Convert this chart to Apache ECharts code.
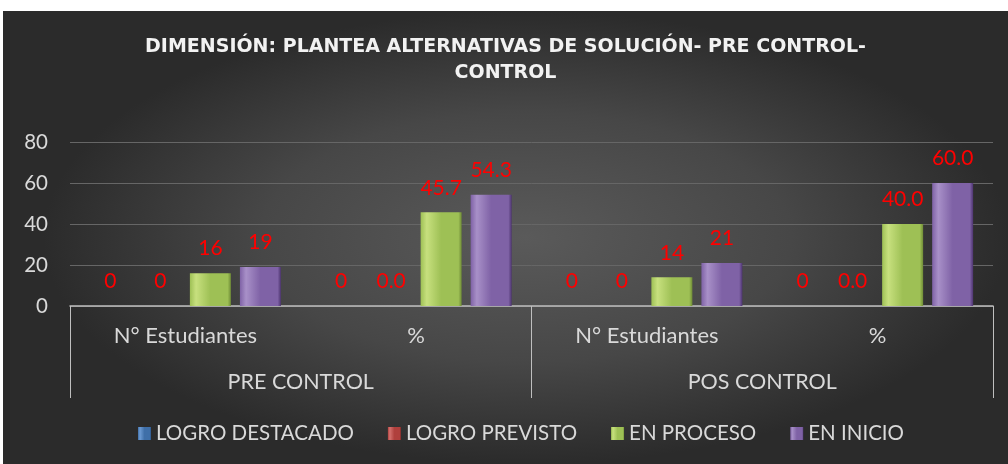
<!DOCTYPE html>
<html>
<head>
<meta charset="utf-8">
<script src="https://cdn.jsdelivr.net/npm/echarts@6/dist/echarts.min.js"></script>
<style>
  html, body { margin: 0; padding: 0; background: #ffffff; }
  #wrap { position: relative; width: 1008px; height: 464px; background: #ffffff; overflow: hidden; }
  #chart { position: absolute; left: 3px; top: 11px; width: 1005px; height: 453px;
    background: radial-gradient(ellipse closest-side at 52% 50%, #5a5a5a 0%, #474747 55%, #2b2b2b 100%); }
</style>
</head>
<body>
<div id="wrap"><div id="chart"></div></div>
<script>
// ---- data ----
const titleText = 'DIMENSIÓN: PLANTEA ALTERNATIVAS DE SOLUCIÓN- PRE CONTROL-\nCONTROL';
const innerCategories = ['N° Estudiantes', '%', 'N° Estudiantes', '%'];
const outerCategories = ['PRE CONTROL', 'POS CONTROL'];
const seriesNames = ['LOGRO DESTACADO', 'LOGRO PREVISTO', 'EN PROCESO', 'EN INICIO'];
const logroDestacado = [0, 0, 0, 0];
const logroPrevisto = [0, 0.0, 0, 0.0];
const enProceso = [16, 45.7, 14, 40.0];
const enInicio = [19, 54.3, 21, 60.0];
// decimals shown in data labels, per series per category
const labelDecimals = [
  [0, 0, 0, 0],
  [0, 1, 0, 1],
  [0, 1, 0, 1],
  [0, 1, 0, 1]
];
const yTicks = { min: 0, max: 80, interval: 20 };

const seriesValues = [logroDestacado, logroPrevisto, enProceso, enInicio];
const baseColors = [
  ['#6d9bd3', '#3f6fa8', '#2c5282'],
  ['#d4716e', '#b0403d', '#8a2c2a'],
  ['#c7e07e', '#9ec055', '#6f8c36'],
  ['#a890c8', '#7f62a6', '#4d3470']
];

const FONT = 'Lato';

const chart = echarts.init(document.getElementById('chart'), null, { renderer: 'canvas' });

const series = seriesValues.map((vals, si) => ({
  name: seriesNames[si],
  type: 'bar',
  xAxisIndex: 0,
  yAxisIndex: 0,
  barWidth: 41,
  barGap: '22%',
  data: vals,
  itemStyle: {
    color: {
      type: 'linear', x: 0, y: 0, x2: 1, y2: 0,
      colorStops: [
        { offset: 0, color: baseColors[si][1] },
        { offset: 0.15, color: baseColors[si][0] },
        { offset: 0.5, color: baseColors[si][1] },
        { offset: 0.92, color: baseColors[si][1] },
        { offset: 1, color: baseColors[si][2] }
      ]
    },
    borderWidth: 0
  },
  label: {
    show: true,
    position: 'top',
    distance: 14,
    color: '#ff0000',
    fontFamily: FONT,
    fontSize: 21,
    formatter: (p) => Number(p.value).toFixed(labelDecimals[si][p.dataIndex])
  }
}));

chart.setOption({
  animation: false,
  title: {
    text: titleText,
    left: 'center',
    top: 18,
    textStyle: {
      color: '#f2f2f2',
      fontFamily: 'DejaVu Sans',
      fontWeight: 'bold',
      fontSize: 19,
      lineHeight: 26,
      align: 'center'
    }
  },
  legend: {
    data: seriesNames,
    bottom: 15,
    left: 130,
    itemWidth: 13,
    itemHeight: 13,
    itemGap: 34,
    icon: 'rect',
    textStyle: { color: '#d9d9d9', fontFamily: FONT, fontSize: 20.5 }
  },
  grid: { left: 67, right: 15, top: 131, bottom: 158, containLabel: false },
  xAxis: [
    {
      type: 'category',
      data: innerCategories,
      position: 'bottom',
      axisLine: { show: false, onZero: false },
      axisTick: { show: false },
      axisLabel: { color: '#d9d9d9', fontFamily: FONT, fontSize: 22, margin: 19, interval: 0 }
    },
    {
      type: 'category',
      data: outerCategories,
      position: 'bottom',
      axisLine: { show: true, onZero: false, lineStyle: { color: '#bfbfbf', width: 1.5 } },
      axisTick: { show: true, interval: 0, length: 92, lineStyle: { color: '#bfbfbf', width: 1 } },
      axisLabel: { color: '#d9d9d9', fontFamily: FONT, fontSize: 21.5, margin: 65, interval: 0 }
    }
  ],
  yAxis: {
    type: 'value',
    min: yTicks.min,
    max: yTicks.max,
    interval: yTicks.interval,
    axisLine: { show: false },
    axisTick: { show: false },
    axisLabel: { color: '#d9d9d9', fontFamily: FONT, fontSize: 20.5, margin: 22 },
    splitLine: { lineStyle: { color: '#666666', width: 1 } }
  },
  series: series
});
</script>
</body>
</html>
